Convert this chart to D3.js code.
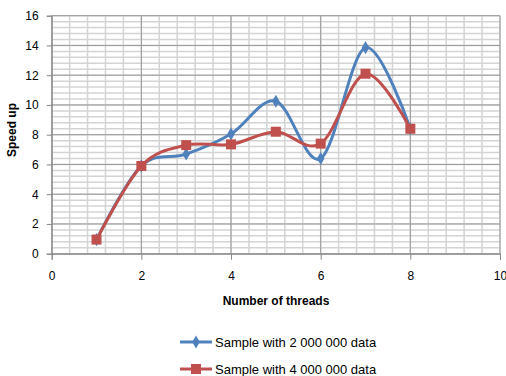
<!DOCTYPE html>
<html>
<head>
<meta charset="utf-8">
<script src="https://cdn.jsdelivr.net/npm/d3@7"></script>
<style>
  body { margin: 0; background: #fff; }
  svg { font-family: "Liberation Sans", Arial, sans-serif; }
</style>
</head>
<body>
<svg id="chart" width="506" height="376"></svg>
<script>
// data
var threads = [1, 2, 3, 4, 5, 6, 7, 8];
var speed2M = [0.95, 5.9, 6.7, 8.05, 10.25, 6.4, 13.85, 8.4];
var speed4M = [0.95, 5.9, 7.3, 7.35, 8.2, 7.4, 12.1, 8.4];
var seriesNames = ["Sample with 2 000 000 data", "Sample with 4 000 000 data"];
var xTicks = [0, 2, 4, 6, 8, 10];
var yTicks = [0, 2, 4, 6, 8, 10, 12, 14, 16];

var svg = d3.select("#chart");
var pLeft = 51.7, pRight = 500, pTop = 15.7, pBottom = 253.7;

var x = d3.scaleLinear().domain([0, 10]).range([pLeft, pRight]);
var y = d3.scaleLinear().domain([0, 16]).range([pBottom, pTop]);

var minorX = d3.range(0, 10.01, 0.4);
var minorY = d3.range(0, 16.01, 0.4);

var grid = svg.append("g");
// minor grid
grid.selectAll(".mx").data(minorX).enter().append("line")
    .attr("x1", function(d) { return x(d); }).attr("x2", function(d) { return x(d); })
    .attr("y1", pTop).attr("y2", pBottom)
    .attr("stroke", "#d4d4d4").attr("stroke-width", 1.5);
grid.selectAll(".my").data(minorY).enter().append("line")
    .attr("y1", function(d) { return y(d); }).attr("y2", function(d) { return y(d); })
    .attr("x1", pLeft).attr("x2", pRight)
    .attr("stroke", "#d4d4d4").attr("stroke-width", 1.5);
// major grid
grid.selectAll(".gx").data(xTicks).enter().append("line")
    .attr("x1", function(d) { return x(d); }).attr("x2", function(d) { return x(d); })
    .attr("y1", pTop).attr("y2", pBottom)
    .attr("stroke", "#9a9a9a").attr("stroke-width", 1);
grid.selectAll(".gy").data(yTicks).enter().append("line")
    .attr("y1", function(d) { return y(d); }).attr("y2", function(d) { return y(d); })
    .attr("x1", pLeft).attr("x2", pRight)
    .attr("stroke", "#9a9a9a").attr("stroke-width", 1);

// axes
svg.append("g").attr("transform", "translate(" + pLeft + ",0)")
    .call(d3.axisLeft(y).tickValues(yTicks).tickSize(5).tickPadding(8));
svg.append("g").attr("transform", "translate(0," + pBottom + ")")
    .call(d3.axisBottom(x).tickValues(xTicks).tickSize(6).tickPadding(12));
svg.selectAll(".domain").attr("stroke", "#868686");
svg.selectAll(".tick line").attr("stroke", "#868686");
svg.selectAll(".tick text").attr("font-size", 12).attr("fill", "#000")
    .attr("font-family", "Liberation Sans, Arial, sans-serif");

svg.append("text")
    .attr("transform", "translate(16,130) rotate(-90)")
    .attr("text-anchor", "middle")
    .attr("font-size", 12).attr("font-weight", "bold")
    .text("Speed up");
svg.append("text")
    .attr("x", 276).attr("y", 305)
    .attr("text-anchor", "middle")
    .attr("font-size", 12).attr("font-weight", "bold")
    .text("Number of threads");

var colors = ["#4f81bd", "#c0504d"];
var line = d3.line()
    .x(function(d) { return x(d[0]); })
    .y(function(d) { return y(d[1]); })
    .curve(d3.curveCatmullRom.alpha(0));

var series = [d3.zip(threads, speed2M), d3.zip(threads, speed4M)];

series.forEach(function(pts, i) {
  var g = svg.append("g");
  g.append("path").attr("d", line(pts))
      .attr("fill", "none").attr("stroke", colors[i]).attr("stroke-width", 3);
  if (i === 0) {
    g.selectAll("path.m").data(pts).enter().append("path")
        .attr("d", d3.symbol(d3.symbolDiamond, 50))
        .attr("transform", function(d) { return "translate(" + x(d[0]) + "," + y(d[1]) + ")"; })
        .attr("fill", colors[i]);
  } else {
    g.selectAll("rect").data(pts).enter().append("rect")
        .attr("x", function(d) { return x(d[0]) - 5; })
        .attr("y", function(d) { return y(d[1]) - 5; })
        .attr("width", 10).attr("height", 10)
        .attr("fill", colors[i]);
  }
});

// legend
var legY = [342, 369];
seriesNames.forEach(function(name, i) {
  var lg = svg.append("g").attr("transform", "translate(180," + legY[i] + ")");
  lg.append("line").attr("x1", 0).attr("x2", 32).attr("y1", 0).attr("y2", 0)
      .attr("stroke", colors[i]).attr("stroke-width", 3);
  if (i === 0) {
    lg.append("path").attr("d", d3.symbol(d3.symbolDiamond, 50))
        .attr("transform", "translate(16,0)").attr("fill", colors[i]);
  } else {
    lg.append("rect").attr("x", 11).attr("y", -5).attr("width", 10).attr("height", 10)
        .attr("fill", colors[i]);
  }
  lg.append("text").attr("x", 35).attr("y", 4.5)
      .attr("font-size", 13).text(name);
});
</script>
</body>
</html>
